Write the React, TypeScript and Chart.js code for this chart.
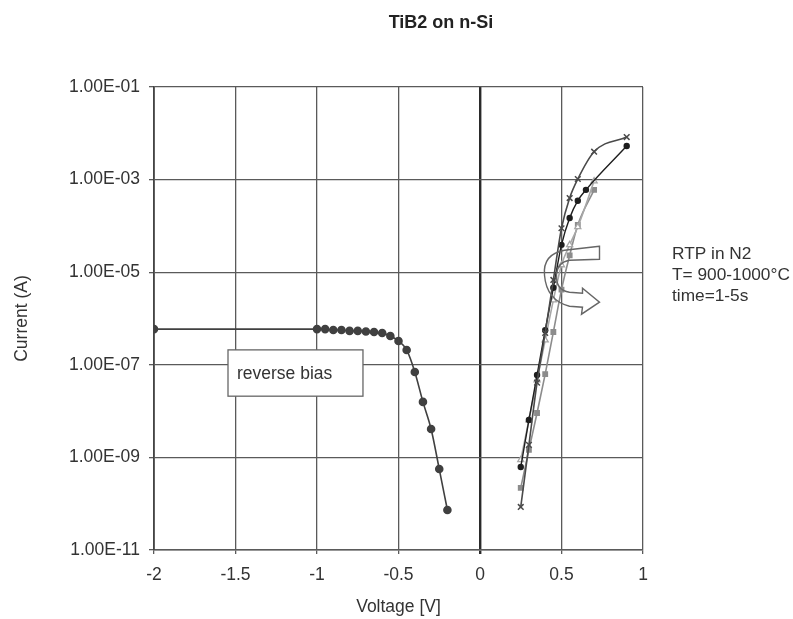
import React, { useEffect, useRef } from 'react';
import { Chart, registerables } from 'chart.js';

Chart.register(...registerables);

const titleText = 'TiB2 on n-Si';
const xTitle = 'Voltage [V]';
const yTitle = 'Current (A)';
const noteLines = ['RTP in N2', 'T= 900-1000°C', 'time=1-5s'];
const boxLabel = 'reverse bias';

const xTickValues = [-2, -1.5, -1, -0.5, 0, 0.5, 1];
const xTickLabels = ['-2', '-1.5', '-1', '-0.5', '0', '0.5', '1'];
const yTickValues = [1e-11, 1e-9, 1e-7, 1e-5, 1e-3, 1e-1];
const yTickLabels = ['1.00E-11', '1.00E-09', '1.00E-07', '1.00E-05', '1.00E-03', '1.00E-01'];

// reverse bias curve
const reverseV = [-2, -1, -0.95, -0.9, -0.85, -0.8, -0.75, -0.7, -0.65, -0.6, -0.55, -0.5, -0.45, -0.4, -0.35, -0.3, -0.25, -0.2];
const reverseI = [5.9e-7, 5.9e-7, 5.9e-7, 5.65e-7, 5.65e-7, 5.4e-7, 5.4e-7, 5.25e-7, 5.1e-7, 4.86e-7, 4.19e-7, 3.27e-7, 2.09e-7, 7.0e-8, 1.58e-8, 4.1e-9, 5.6e-10, 7.3e-11];

// forward curves
const fwdV_A = [0.25, 0.3, 0.35, 0.4, 0.45, 0.5, 0.55, 0.6, 0.7, 0.9];
const fwdI_A = [8.5e-11, 1.86e-9, 4.1e-8, 4.9e-7, 6.8e-6, 8.9e-5, 4.0e-4, 1.03e-3, 4.0e-3, 8.3e-3];
const fwdV_B = [0.25, 0.3, 0.35, 0.4, 0.45, 0.5, 0.55, 0.6, 0.65, 0.9];
const fwdI_B = [6.2e-10, 6.4e-9, 6.0e-8, 5.6e-7, 4.6e-6, 3.9e-5, 1.48e-4, 3.5e-4, 6.0e-4, 5.3e-3];
const fwdV_C = [0.25, 0.3, 0.35, 0.4, 0.45, 0.5, 0.55, 0.6, 0.7];
const fwdI_C = [8.8e-10, 6.4e-9, 4.7e-8, 3.4e-7, 2.5e-6, 1.43e-5, 3.9e-5, 9.5e-5, 9.3e-4];
const fwdV_D = [0.25, 0.3, 0.35, 0.4, 0.45, 0.5, 0.55, 0.6, 0.7];
const fwdI_D = [2.2e-10, 1.45e-9, 9.1e-9, 6.3e-8, 5.1e-7, 4.2e-6, 2.3e-5, 1.05e-4, 6.0e-4];

// annotation placement in data units
const boxX = [-1.546, -0.718];
const boxY = [2.1e-7, 2.1e-8];

const FONT = "'Liberation Sans', Arial, sans-serif";
const GRID = '#5a5a5a';

const toPts = (xs: number[], ys: number[]) => xs.map((x, i) => ({ x, y: ys[i] }));

const annotationPlugin = {
  id: 'annots',
  afterDraw(chart: any) {
    const { ctx, chartArea, scales } = chart;
    const xs = scales.x;
    const ys = scales.y;
    ctx.save();
    // title
    ctx.fillStyle = '#222';
    ctx.font = `bold 18px ${FONT}`;
    ctx.textAlign = 'center';
    ctx.textBaseline = 'middle';
    ctx.fillText(titleText, 441, 23);

    // reverse bias box
    const bx0 = xs.getPixelForValue(boxX[0]);
    const bx1 = xs.getPixelForValue(boxX[1]);
    const by0 = ys.getPixelForValue(boxY[0]);
    const by1 = ys.getPixelForValue(boxY[1]);
    ctx.fillStyle = '#ffffff';
    ctx.strokeStyle = '#666';
    ctx.lineWidth = 1.3;
    ctx.fillRect(bx0, by0, bx1 - bx0, by1 - by0);
    ctx.strokeRect(bx0, by0, bx1 - bx0, by1 - by0);
    ctx.fillStyle = '#333';
    ctx.font = `17.5px ${FONT}`;
    ctx.textAlign = 'left';
    ctx.textBaseline = 'middle';
    ctx.fillText(boxLabel, bx0 + 9, (by0 + by1) / 2 + 1);

    // curved arrow, anchored at (0.5, 1e-5)
    const ax = xs.getPixelForValue(0.5);
    const ay = ys.getPixelForValue(1e-5);
    const P = (dx: number, dy: number): [number, number] => [ax + dx, ay + dy];
    ctx.beginPath();
    ctx.moveTo(...P(38, -26));
    ctx.lineTo(...P(3, -22));
    ctx.quadraticCurveTo(...P(-19, -18), ...P(-17, 3));
    ctx.quadraticCurveTo(...P(-15, 28), ...P(8, 34));
    ctx.lineTo(...P(21, 35));
    ctx.lineTo(...P(20, 42));
    ctx.lineTo(...P(38, 30));
    ctx.lineTo(...P(21, 16));
    ctx.lineTo(...P(21, 21));
    ctx.lineTo(...P(8, 20));
    ctx.quadraticCurveTo(...P(-6, 18), ...P(-5, 2));
    ctx.quadraticCurveTo(...P(-4, -10), ...P(8, -12));
    ctx.lineTo(...P(38, -13));
    ctx.closePath();
    ctx.strokeStyle = '#666';
    ctx.lineWidth = 1.4;
    ctx.stroke();

    // side note
    ctx.fillStyle = '#333';
    ctx.font = `17.3px ${FONT}`;
    ctx.textAlign = 'left';
    ctx.textBaseline = 'middle';
    const nx = chartArea.right + 29;
    noteLines.forEach((t, i) => ctx.fillText(t, nx, ay - 18 + i * 21));
    ctx.restore();
  },
};

export default function App() {
  const ref = useRef<HTMLCanvasElement>(null);
  useEffect(() => {
    if (!ref.current) return;
    const chart = new Chart(ref.current, {
      type: 'line',
      data: {
        datasets: [
          {
            label: 'reverse',
            data: toPts(reverseV, reverseI),
            borderColor: '#404040',
            backgroundColor: '#404040',
            borderWidth: 1.6,
            pointRadius: 3.5,
            pointStyle: 'circle',
            cubicInterpolationMode: 'monotone',
            order: 1,
          },
          {
            label: 'A',
            data: toPts(fwdV_A, fwdI_A),
            borderColor: '#4a4a4a',
            backgroundColor: '#4a4a4a',
            borderWidth: 1.6,
            pointRadius: 4,
            pointStyle: 'crossRot',
            pointBorderWidth: 1.5,
            cubicInterpolationMode: 'monotone',
            order: 1,
          },
          {
            label: 'B',
            data: toPts(fwdV_B, fwdI_B),
            borderColor: '#1e1e1e',
            backgroundColor: '#1e1e1e',
            borderWidth: 1.4,
            pointRadius: 2.5,
            pointStyle: 'circle',
            cubicInterpolationMode: 'monotone',
            order: 2,
          },
          {
            label: 'C',
            data: toPts(fwdV_C, fwdI_C),
            borderColor: '#a8a8a8',
            backgroundColor: '#ffffff',
            borderWidth: 1.6,
            pointRadius: 3.5,
            pointStyle: 'triangle',
            pointBorderWidth: 1.3,
            cubicInterpolationMode: 'monotone',
            order: 3,
          },
          {
            label: 'D',
            data: toPts(fwdV_D, fwdI_D),
            borderColor: '#8c8c8c',
            backgroundColor: '#8c8c8c',
            borderWidth: 1.6,
            pointRadius: 3,
            pointStyle: 'rect',
            cubicInterpolationMode: 'monotone',
            order: 4,
          },
        ],
      },
      options: {
        responsive: false,
        animation: false,
        devicePixelRatio: 1,
        layout: { padding: { left: 0, right: 150, top: 87, bottom: 0 } },
        plugins: {
          legend: { display: false },
          tooltip: { enabled: false },
          title: { display: false },
        },
        scales: {
          x: {
            type: 'linear',
            min: -2,
            max: 1,
            afterBuildTicks: (s: any) => {
              s.ticks = xTickValues.map((v) => ({ value: v }));
            },
            afterFit: (s: any) => {
              s.height = 69;
            },
            ticks: {
              autoSkip: false,
              maxRotation: 0,
              padding: 11,
              color: '#333',
              font: { family: FONT, size: 17.5 },
              callback: (v: any) => xTickLabels[xTickValues.indexOf(Number(v))],
            },
            grid: {
              color: (c: any) => (c.tick && c.tick.value === 0 ? '#2a2a2a' : GRID),
              lineWidth: (c: any) => (c.tick && c.tick.value === 0 ? 2.4 : 1.3),
              tickLength: 4,
            },
            border: { display: true, color: GRID, width: 1.5 },
            title: {
              display: true,
              text: xTitle,
              color: '#333',
              font: { family: FONT, size: 17.5 },
              padding: { top: 0, bottom: 1 },
            },
          },
          y: {
            type: 'logarithmic',
            min: 1e-11,
            max: 1e-1,
            afterBuildTicks: (s: any) => {
              s.ticks = yTickValues.map((v) => ({ value: v }));
            },
            afterFit: (s: any) => {
              s.width = 154;
            },
            ticks: {
              autoSkip: false,
              padding: 9,
              color: '#333',
              font: { family: FONT, size: 17.5 },
              callback: (v: any) => yTickLabels[yTickValues.indexOf(Number(v))],
            },
            grid: { color: GRID, lineWidth: 1.3, tickLength: 5 },
            border: { display: true, color: '#444', width: 1.8 },
            title: {
              display: true,
              text: yTitle,
              color: '#333',
              font: { family: FONT, size: 17.5 },
              padding: { top: 12, bottom: 0 },
            },
          },
        },
      },
      plugins: [annotationPlugin],
    } as any);
    return () => chart.destroy();
  }, []);

  return (
    <div style={{ position: 'fixed', left: 0, top: 0, width: 793, height: 619, background: '#fff' }}>
      <canvas ref={ref} width={793} height={619} style={{ width: 793, height: 619, display: 'block' }} />
    </div>
  );
}
